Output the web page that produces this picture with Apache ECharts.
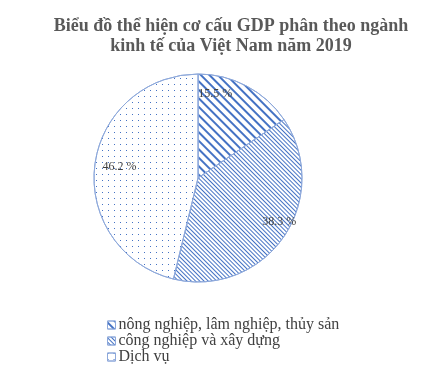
<!DOCTYPE html>
<html><head><meta charset="utf-8">
<script src="https://cdn.jsdelivr.net/npm/echarts@6/dist/echarts.min.js"></script>
<style>html,body{margin:0;padding:0;background:#fff}#c{width:423px;height:387px}</style>
</head><body><div id="c"></div>
<script>
const titleText = 'Biểu đồ thể hiện cơ cấu GDP phân theo ngành\nkinh tế của Việt Nam năm 2019';
const categories = ['nông nghiệp, lâm nghiệp, thủy sản', 'công nghiệp và xây dựng', 'Dịch vụ'];
const values = [15.5, 38.3, 46.2];

const blue = '#4472C4';
const decals = [
  {symbol:'rect', symbolSize:1, color:blue, dashArrayX:[1,0], dashArrayY:[2,4], rotation:Math.PI/4},
  {symbol:'rect', symbolSize:1, color:blue, dashArrayX:[1,0], dashArrayY:[1,2], rotation:Math.PI/4},
  {symbol:'rect', symbolSize:1, color:blue, dashArrayX:[1,5], dashArrayY:[1,5], rotation:0}
];
const labelOffsets = [[-22,-10],[12,-4],[5,-1]];

const chart = echarts.init(document.getElementById('c'), null, {renderer:'canvas'});
const center = [198, 178];
const R = 104;
chart.setOption({
  animation:false,
  title:{text:titleText, left:226, top:11, textAlign:'center',
    textStyle:{fontFamily:'Liberation Serif', fontWeight:'bold', fontSize:18, color:'#595959', lineHeight:20}},
  legend:{orient:'vertical', left:102, top:312, itemWidth:8, itemHeight:8, itemGap:0, icon:'rect',
    data:categories,
    itemStyle:{borderColor:'#8EA9DB', borderWidth:1},
    textStyle:{fontFamily:'Liberation Serif', fontSize:16, color:'#404040', lineHeight:15.5, padding:[0,0,0,-2]}},
  series:[
    {type:'pie', center:center, radius:R, startAngle:90, clockwise:true,
     label:{show:false}, labelLine:{show:false},
     data:categories.map((c,i)=>({name:c, value:values[i],
       itemStyle:{color:'#ffffff', borderColor:'#8EA9DB', borderWidth:1, decal:decals[i]}}))},
    {type:'pie', center:center, radius:[R*0.56, R], startAngle:90, clockwise:true, silent:true,
     legendHoverLink:false,
     itemStyle:{color:'rgba(0,0,0,0)'},
     label:{show:true, position:'inside', formatter:p=>p.value.toFixed(1)+' %',
       fontFamily:'Liberation Serif', fontSize:12, color:'#404040'},
     labelLine:{show:false},
     data:categories.map((c,i)=>({name:'_'+c, value:values[i], label:{offset:labelOffsets[i]}}))}
  ]
});
</script></body></html>
